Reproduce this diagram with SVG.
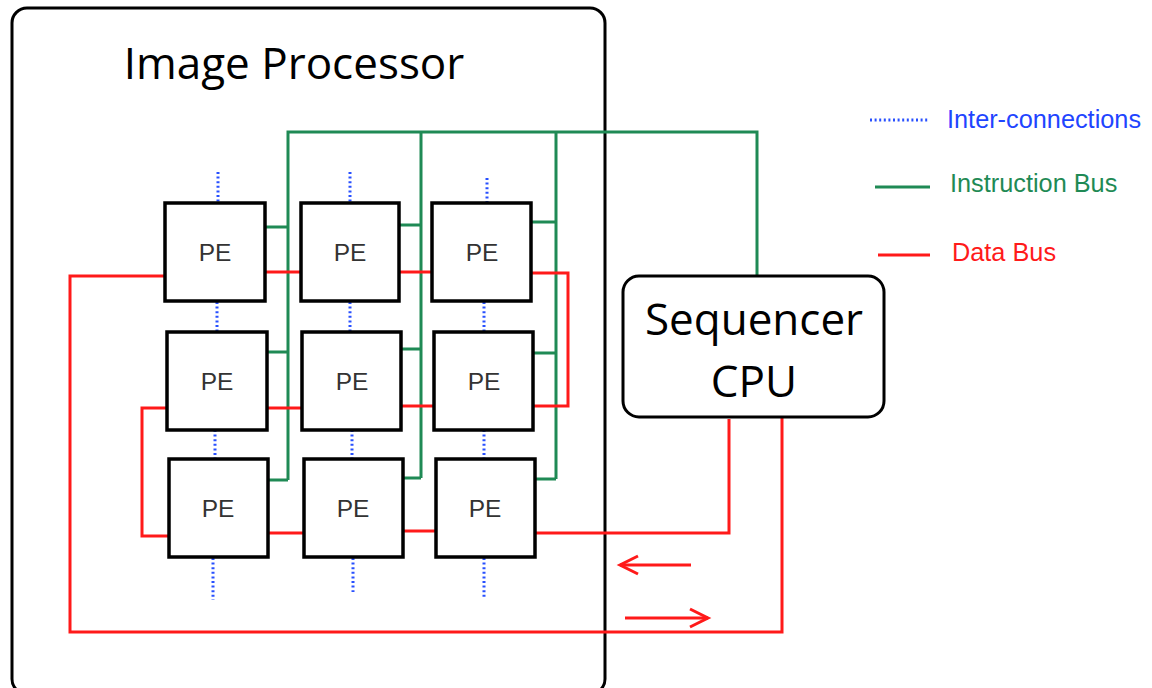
<svg xmlns="http://www.w3.org/2000/svg" width="1152" height="688" viewBox="0 0 1152 688">
<defs>
<style>
.frame{fill:#fff;stroke:#000;stroke-width:3}
.pe{fill:#fff;stroke:#000;stroke-width:3.5}
.pet{font-family:"Liberation Sans",Arial,sans-serif;font-size:24.5px;fill:#333;text-anchor:middle}
.big{font-family:"Open Sans","Liberation Sans",sans-serif;font-size:44px;fill:#000;text-anchor:middle}
.ic{fill:none;stroke:#2850ff;stroke-width:3;stroke-dasharray:2 2.6}
.ib{fill:none;stroke:#1f8a55;stroke-width:3}
.db{fill:none;stroke:#ff1a1a;stroke-width:3}
.leg{font-family:"Liberation Sans",Arial,sans-serif;font-size:25.3px}
</style>
<marker id="ah" markerWidth="24" markerHeight="24" refX="20" refY="12" orient="auto" markerUnits="userSpaceOnUse">
<path d="M2,3 L20,12 L2,21" fill="none" stroke="#ff1a1a" stroke-width="3"/>
</marker>
</defs>
<rect width="1152" height="688" fill="#fff"/>
<g id="image-processor">
<rect class="frame" x="12" y="8" width="593" height="686" rx="15"/>
<text class="big" x="294" y="79">Image Processor</text>
</g>
<g id="connectors">
<!-- interconnections -->
<path class="ic" d="M218,172V202 M350,172V202 M487,178V202 M217,302V332 M350,302V332 M484,302V332 M215,430V459 M352,430V459 M484,430V459 M213,558V600 M353,558V592 M484,558V597"/>
<!-- instruction bus -->
<path class="ib" d="M288,480V132H757V277 M421,132V478 M556,132V479"/>
<path class="ib" d="M265,227H288 M399,225H421 M531,222H556 M267,352H288 M401,349H421 M533,353H556 M268,480H288 M403,478H421 M535,479H556"/>
<!-- data bus -->
<path class="db" d="M165,276H70V632H782V415"/>
<path class="db" d="M265,272H301 M399,272H432 M531,273H568V406H533 M434,406H401 M302,408H267 M167,408H142V536H169 M268,533H304 M403,531H436 M535,533H729V419"/>
<path class="db" d="M691,565H620" marker-end="url(#ah)"/>
<path class="db" d="M625,618H708" marker-end="url(#ah)"/>
</g>
<g id="pe-1-1"><rect class="pe" x="165" y="203" width="100" height="98"/><text class="pet" x="215" y="261">PE</text></g>
<g id="pe-1-2"><rect class="pe" x="301" y="203" width="98" height="98"/><text class="pet" x="350" y="261">PE</text></g>
<g id="pe-1-3"><rect class="pe" x="432" y="203" width="99" height="98"/><text class="pet" x="482" y="261">PE</text></g>
<g id="pe-2-1"><rect class="pe" x="167" y="332" width="100" height="98"/><text class="pet" x="217" y="390">PE</text></g>
<g id="pe-2-2"><rect class="pe" x="302" y="332" width="99" height="98"/><text class="pet" x="352" y="390">PE</text></g>
<g id="pe-2-3"><rect class="pe" x="434" y="332" width="99" height="98"/><text class="pet" x="484" y="390">PE</text></g>
<g id="pe-3-1"><rect class="pe" x="169" y="459" width="99" height="98"/><text class="pet" x="218" y="517">PE</text></g>
<g id="pe-3-2"><rect class="pe" x="304" y="459" width="99" height="98"/><text class="pet" x="353" y="517">PE</text></g>
<g id="pe-3-3"><rect class="pe" x="436" y="459" width="99" height="98"/><text class="pet" x="485" y="517">PE</text></g>
<g id="sequencer">
<rect class="frame" x="623" y="276" width="261" height="141" rx="16"/>
<text class="big" x="754" y="335">Sequencer</text>
<text class="big" x="754" y="397">CPU</text>
</g>
<g id="legend">
<path class="ic" d="M870,120H929"/>
<text class="leg" x="947" y="128" fill="#1f45ff">Inter-connections</text>
<path class="ib" d="M875,187H930"/>
<text class="leg" x="950" y="192" fill="#1f8a55">Instruction Bus</text>
<path class="db" d="M878,255H930"/>
<text class="leg" x="952" y="261" fill="#ff1a1a">Data Bus</text>
</g>
</svg>
